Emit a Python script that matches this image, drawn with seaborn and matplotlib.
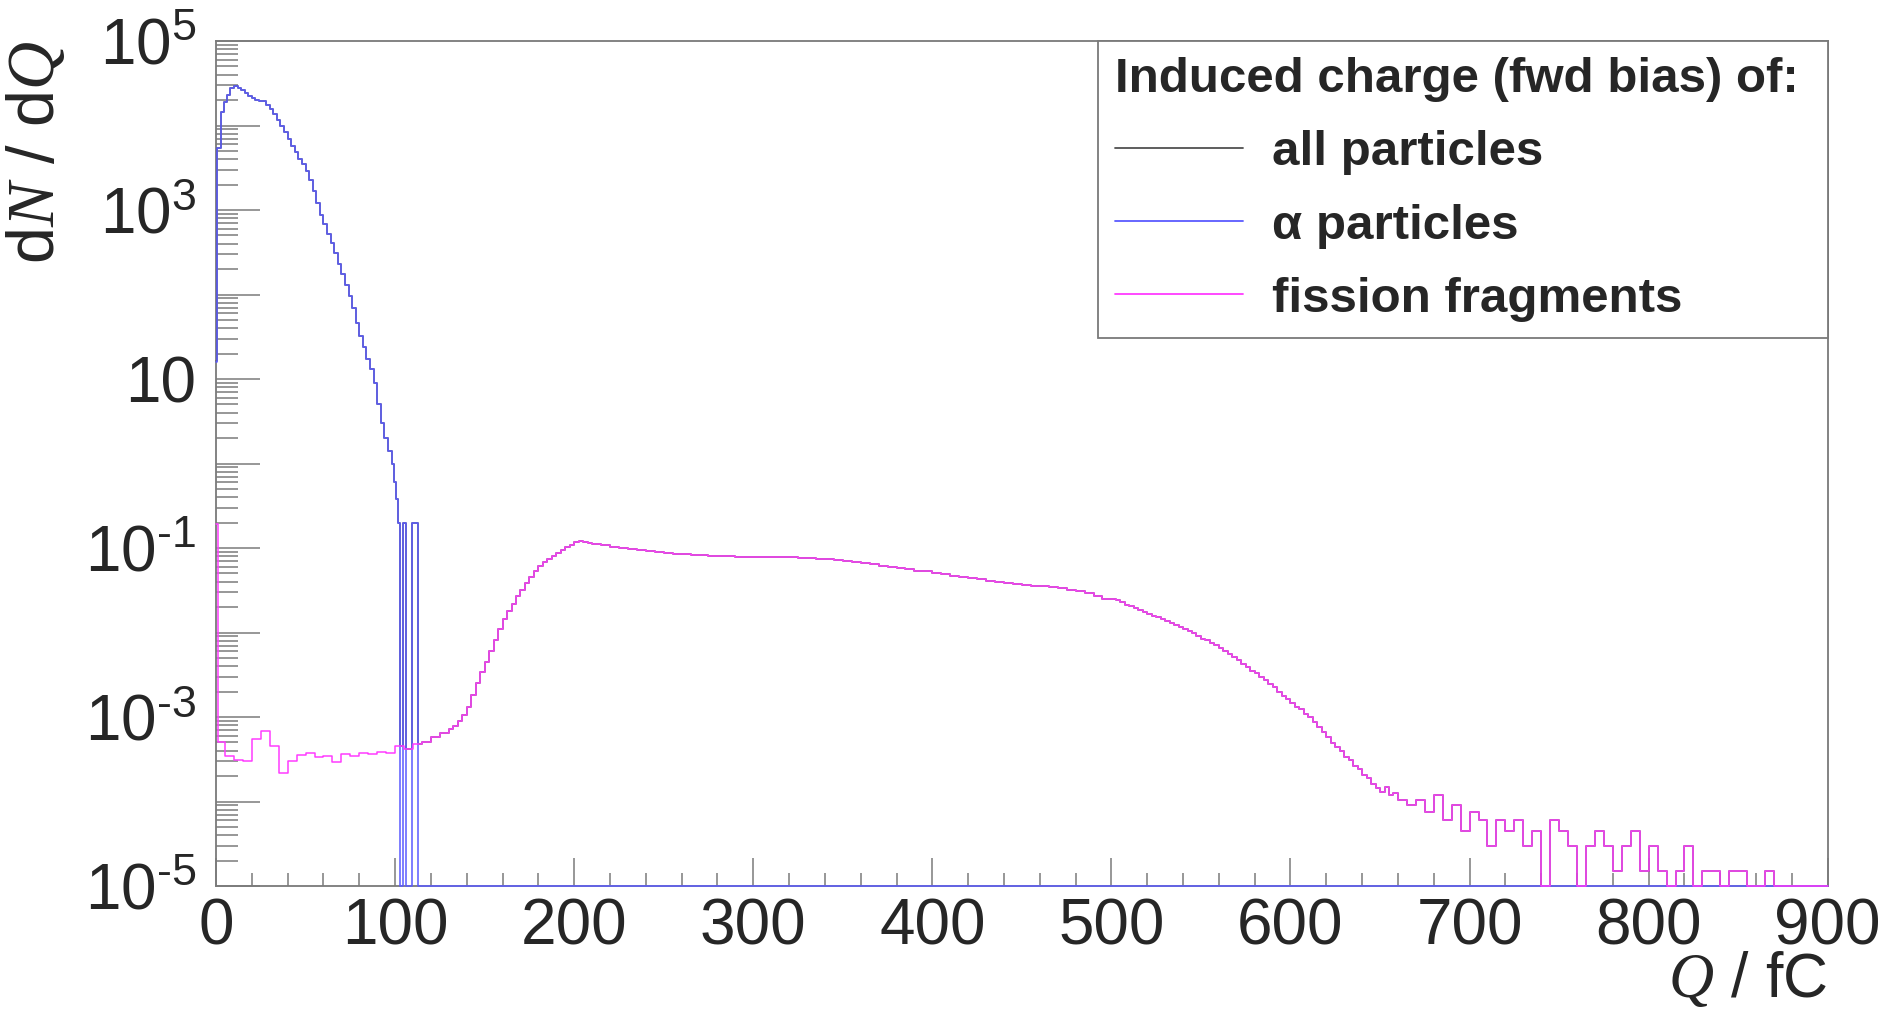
import numpy as np
import matplotlib
matplotlib.use('Agg')
import matplotlib.pyplot as plt
from matplotlib.lines import Line2D
from matplotlib.ticker import LogLocator, FuncFormatter, MultipleLocator, NullFormatter
import seaborn as sns

# ---- data ----------------------------------------------------------------
# alpha particles: bin edges (fC) and dN/dQ per bin
alpha_edges = np.concatenate([[0, 0.5, 3, 4.5], np.arange(6, 99, 2),
                              [99.5, 100.5, 101.5, 103, 104.6, 106.2, 109.4, 112.6, 900]])
alpha_vals = [16, 5400, 1.45e4, 1.9e4,
              # 6 - 30
              2.3e4, 2.75e4, 2.95e4, 2.8e4, 2.6e4, 2.4e4, 2.25e4, 2.1e4, 2.0e4, 1.95e4, 1.95e4, 1.75e4,
              # 30 - 98
              15800, 13800, 11700, 10000, 8300, 6900, 5750, 4900, 4070, 3470,
              2880, 2240, 1660, 1200, 870, 676, 525, 407, 309, 229,
              174, 129, 95, 69, 46, 32, 24, 17.4, 13.2, 8.9,
              5.0, 3.0, 2.0, 1.4,
              # 98 - 900
              1.0, 0.6, 0.38, 0.2, 0, 0.2, 0, 0.2, 0]

# fission fragments: narrow first bin, 5 fC bins, 2.5 fC on the steep parts
ff_edges = np.concatenate([[0, 1], np.arange(5, 130, 5), np.arange(130, 210, 2.5),
                           np.arange(210, 500, 5), np.arange(500, 660, 2.5),
                           np.arange(660, 905, 5)])
ff_vals = [0.19, 5.0e-4,
           # 5 - 130
           3.5e-4, 3.1e-4, 3.0e-4, 5.5e-4, 6.8e-4, 4.5e-4, 2.2e-4, 3.0e-4, 3.6e-4, 3.8e-4,
           3.4e-4, 3.5e-4, 2.9e-4, 3.7e-4, 3.5e-4, 3.8e-4, 3.7e-4, 3.9e-4, 3.8e-4, 4.6e-4,
           4.2e-4, 4.8e-4, 5.0e-4, 5.8e-4, 6.5e-4,
           # 130 - 210
           7.2e-4, 7.8e-4, 9.0e-4, 1.05e-3, 1.3e-3, 1.8e-3, 2.5e-3, 3.4e-3,
           4.5e-3, 6.0e-3, 8.2e-3, 1.1e-2, 1.45e-2, 1.8e-2, 2.2e-2, 2.7e-2,
           3.2e-2, 3.9e-2, 4.6e-2, 5.4e-2, 6.2e-2, 6.9e-2, 7.5e-2, 8.1e-2,
           8.8e-2, 9.5e-2, 0.102, 0.110, 0.117, 0.120, 0.119, 0.116,
           # 210 - 500
           0.112, 0.108, 0.104, 0.100, 0.097, 0.095, 0.092, 0.090, 0.088,
           0.086, 0.084, 0.083, 0.082, 0.081, 0.080, 0.080, 0.079, 0.079, 0.079,
           0.079, 0.079, 0.078, 0.078, 0.077, 0.076, 0.075, 0.074, 0.072, 0.070,
           0.069, 0.067, 0.065, 0.062, 0.060, 0.058, 0.056, 0.054, 0.053, 0.051,
           0.049, 0.047, 0.045, 0.044, 0.043, 0.041, 0.040, 0.039, 0.038, 0.037,
           0.036, 0.036, 0.035, 0.034, 0.032, 0.031, 0.029, 0.027, 0.025,
           # 500 - 660
           0.0251, 0.0240, 0.0229, 0.0214, 0.0204, 0.0195, 0.0186, 0.0174,
           0.0166, 0.0158, 0.0151, 0.0145, 0.0138, 0.0129, 0.0123, 0.0117,
           0.0110, 0.0105, 0.0098, 0.0091, 0.0085, 0.0081, 0.0076, 0.0071,
           0.0065, 0.0060, 0.0055, 0.0051, 0.0047, 0.0043, 0.0039, 0.0035,
           0.0033, 0.0030, 0.00275, 0.00245, 0.00224, 0.0020, 0.00178, 0.00162,
           0.00148, 0.00132, 0.00123, 0.00110, 0.00100, 8.7e-4, 7.6e-4, 6.6e-4, 5.8e-4, 4.9e-4,
           4.4e-4, 4.0e-4, 3.4e-4, 3.1e-4, 2.6e-4, 2.4e-4, 2.05e-4, 1.9e-4, 1.6e-4, 1.45e-4,
           1.3e-4, 1.5e-4, 1.2e-4, 1.25e-4,
           # 660 - 900
           1.05e-4, 9e-5, 1.05e-4, 7.5e-5, 1.2e-4, 6e-5, 9e-5, 4.5e-5, 7.5e-5,
           6e-5, 3e-5, 6e-5, 4.5e-5, 6e-5, 3e-5, 4.5e-5, 0, 6e-5, 4.5e-5,
           3e-5, 0, 3e-5, 4.5e-5, 3e-5, 1.5e-5, 3e-5, 4.5e-5, 1.5e-5, 3e-5,
           1.5e-5, 0, 1.5e-5, 3e-5, 0, 1.5e-5, 1.5e-5, 0, 1.5e-5, 1.5e-5,
           0, 0, 1.5e-5, 0, 0, 0, 0, 0, 0]

assert len(alpha_vals) == len(alpha_edges) - 1
assert len(ff_vals) == len(ff_edges) - 1

legend_title = 'Induced charge (fwd bias) of:'
legend_labels = ['all particles', 'α particles', 'fission fragments']
y_label_exps = [5, 3, 1, -1, -3, -5]

# all particles = alpha + fission (sum of the two step functions)
all_edges = np.union1d(alpha_edges, ff_edges)
mids = 0.5 * (all_edges[:-1] + all_edges[1:])
ia = np.searchsorted(alpha_edges, mids) - 1
iff = np.searchsorted(ff_edges, mids) - 1
all_vals = np.array(alpha_vals)[ia] + np.array(ff_vals)[iff]

# ---- style -----------------------------------------------------------------
sns.set_style('white')
plt.rcParams['font.family'] = ['Liberation Sans', 'DejaVu Sans']
plt.rcParams['mathtext.fontset'] = 'custom'
plt.rcParams['mathtext.rm'] = 'Liberation Sans'
plt.rcParams['mathtext.it'] = 'Liberation Serif:italic'

frame_col = '#7a7a7a'
c_all, c_alpha, c_ff = '#505050', '#5a5aff', '#ff3cff'
YMIN, YMAX = 1e-5, 1e5

fig = plt.figure(figsize=(18.95, 10.11), dpi=100)
ax = fig.add_axes([0.114, 0.1236, 0.8505, 0.8358])
ax.set_yscale('log')
ax.set_xlim(0, 900)
ax.set_ylim(YMIN, YMAX)


def draw_hist(edges, vals, color, z):
    x = np.asarray(edges, dtype=float)
    y = np.append(vals, vals[-1]).astype(float)
    # empty bins sit on the frame floor, as ROOT draws them
    y = np.clip(y, YMIN, None)
    sns.lineplot(x=x, y=y, ax=ax, drawstyle='steps-post', color=color, lw=1.1,
                 estimator=None, sort=False, legend=False, zorder=z, clip_on=False)


draw_hist(all_edges, all_vals, c_all, 3)
draw_hist(alpha_edges, alpha_vals, c_alpha, 4)
draw_hist(ff_edges, ff_vals, c_ff, 5)

# frame
for s in ax.spines.values():
    s.set_visible(True)
    s.set_color(frame_col)
    s.set_linewidth(1.3)

# x ticks
ax.xaxis.set_major_locator(MultipleLocator(100))
ax.xaxis.set_minor_locator(MultipleLocator(20))
ax.tick_params(axis='x', which='major', direction='in', length=20, width=1.1,
               color=frame_col, labelsize=46, pad=8, top=False, bottom=True)
ax.tick_params(axis='x', which='minor', direction='in', length=9.5, width=1.1,
               color=frame_col, top=False, bottom=True)

# y ticks
ax.yaxis.set_major_locator(LogLocator(base=10, numticks=20))
ax.yaxis.set_minor_locator(LogLocator(base=10, subs=np.arange(2, 10), numticks=20))
ax.yaxis.set_minor_formatter(NullFormatter())


def ylab(v, pos):
    e = int(round(np.log10(v)))
    if e not in y_label_exps:
        return ''
    if e == 1:
        return '10'
    if e < 0:
        # ROOT prints a short hyphen in the exponent
        return r'$\mathregular{10^{\text{-}%d}}$' % (-e)
    return r'$\mathregular{10^{%d}}$' % e


ax.yaxis.set_major_formatter(FuncFormatter(ylab))
ax.tick_params(axis='y', which='major', direction='in', length=32, width=1.1,
               color=frame_col, labelsize=46, pad=14, left=True, right=False)
ax.tick_params(axis='y', which='minor', direction='in', length=15.5, width=1.1,
               color=frame_col, left=True, right=False)

# axis titles
ax.set_ylabel(r'd$N$ / d$Q$', fontsize=48, loc='top')
ax.yaxis.set_label_coords(-0.092, 1.0)
ax.set_xlabel(r'$Q$ / fC', fontsize=45, loc='right')
ax.xaxis.set_label_coords(1.0, -0.076)

# legend
handles = [Line2D([], [], color=c, lw=1.3) for c in (c_all, c_alpha, c_ff)]
leg = ax.legend(handles, legend_labels, title=legend_title,
                loc='upper left', bbox_to_anchor=(0.5475, 0.0, 0.4525, 1.0),
                mode='expand', borderaxespad=0, frameon=True, fancybox=False,
                framealpha=1, edgecolor=frame_col,
                prop={'family': 'Liberation Sans', 'weight': 'bold', 'size': 35.5},
                title_fontproperties={'family': 'Liberation Sans', 'weight': 'bold', 'size': 35.5},
                alignment='left', handlelength=2.6, handletextpad=0.6,
                labelspacing=0.57, borderpad=0.33)
leg.get_frame().set_linewidth(1.3)
leg.set_zorder(10)

fig.savefig('out.png', dpi=100)
